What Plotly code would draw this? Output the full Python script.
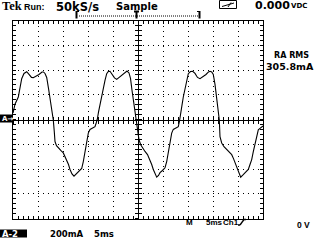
import plotly.graph_objects as go

# Waveform: time from left edge of graticule (ms), current (mA)
time_ms = [0, 0.4, 1.06, 1.4, 1.74, 2.2, 2.74, 3.2, 3.7, 4.06, 4.6, 5.2, 5.8, 6.1, 6.4, 6.74,
           7.1, 7.4, 7.74, 8.06, 8.26, 8.4, 8.7, 9.06, 9.6, 10.06, 10.4, 10.74, 11.1, 11.4, 11.8,
           12.2, 12.6, 13.06, 13.4, 13.74, 14.06, 14.4, 14.74, 15.06, 15.4, 15.74, 16.06, 16.4,
           16.64, 16.86, 17.1, 17.4, 17.74, 18.06, 18.4, 18.74, 19.06, 19.4, 19.8, 20.3, 20.74,
           21.2, 21.8, 22.3, 22.8, 23.2, 23.5, 23.8, 24.1, 24.4, 24.7, 24.9, 25.2, 25.54, 26.0,
           26.4, 26.9, 27.4, 27.74, 28.06, 28.4, 28.74, 29.1, 29.4, 29.9, 30.4, 30.74, 31.06,
           31.4, 31.74, 32.06, 32.4, 32.74, 33.06, 33.3, 33.54, 33.8, 34.06, 34.4, 34.74, 35.06,
           35.5, 35.94, 36.4, 36.9, 37.4, 38.0, 38.6, 39.1, 39.4, 39.74, 40.06, 40.4, 40.74, 41.0,
           41.26, 41.4, 41.74, 42.2, 42.74, 43.2, 43.74, 44.1, 44.4, 44.74, 45.06, 45.54, 46.0,
           46.4, 46.74, 47.06, 47.4, 47.74, 48.06, 48.4, 48.74, 49.06, 49.4, 49.74, 50.0]
current_ma = [52, 124, 182, 276, 330, 372, 386, 364, 340, 338, 348, 364, 384, 384, 372, 340,
              252, 182, 92, -4, -100, -178, -212, -230, -252, -270, -300, -324, -364, -404, -440,
              -458, -440, -418, -408, -396, -340, -270, -188, -110, -80, -70, -66, -58,
              -28, 2, 60, 124, 180, 236, 316, 370, 388, 390, 368, 336, 324,
              340, 356, 380, 392, 376, 332, 236, 140, 52, -4, -100, -164, -204, -236,
              -258, -284, -324, -364, -404, -444, -466, -452, -430, -412, -390, -340, -270,
              -180, -110, -80, -70, -64, -58, -12, 36, 116, 182, 252, 316, 370,
              388, 390, 372, 340, 330, 344, 364, 384, 390, 384, 364, 284, 182, 92,
              -4, -138, -190, -220, -244, -264, -284, -316, -350, -384, -418, -466, -448,
              -430, -416, -404, -364, -324, -260, -190, -124, -84, -72, -64, -52]

time_range = [0, 50]        # 10 div x 5 ms
current_range = [-800, 800] # 8 div x 200 mA
div_time = 5
div_current = 200

W, H = 320, 240
X0, X1 = 13, 263
Y0, Y1 = 20.5, 218.5


def px(x):
    return x / W


def py(y):
    return 1 - y / H


FONT = "DejaVu Sans"
NARROW = "Liberation Sans"
dom_x = [px(X0), px(X1)]
dom_y = [py(Y1), py(Y0)]

fig = go.Figure()
fig.add_trace(go.Scatter(x=time_ms, y=current_ma, mode="lines",
                         line=dict(color="black", width=1.1), hoverinfo="skip",
                         showlegend=False))

axis_common = dict(showticklabels=False, zeroline=False, showline=True, linecolor="black",
                   linewidth=1, mirror="allticks", ticks="inside", ticklen=3,
                   tickcolor="black", tickwidth=1, showgrid=True, gridcolor="black",
                   gridwidth=1, griddash="1px,4px", fixedrange=True)

fig.update_layout(
    width=W, height=H, margin=dict(l=0, r=0, t=0, b=0),
    paper_bgcolor="white", plot_bgcolor="white", showlegend=False,
    xaxis=dict(range=time_range, domain=dom_x, dtick=div_time, anchor="y",
               minor=dict(dtick=1, ticks="inside", ticklen=3, tickcolor="black", showgrid=False),
               **axis_common),
    yaxis=dict(range=current_range, domain=dom_y, dtick=div_current, anchor="x",
               minor=dict(dtick=40, ticks="inside", ticklen=3, tickcolor="black", showgrid=False),
               **axis_common),
)

# centre crosshair axes with ticks on both sides
cx = px((X0 + X1) / 2)
cy = py((Y0 + Y1) / 2)
for i, tk in enumerate(["inside", "outside"]):
    xn, yn = f"xaxis{2 + i}", f"yaxis{2 + i}"
    fig.update_layout(**{
        xn: dict(range=time_range, domain=dom_x, overlaying="x", anchor="free", position=cy,
                 showline=True, linecolor="black", linewidth=1, ticks=tk, ticklen=3,
                 tickcolor="black", dtick=1, showticklabels=False, showgrid=False,
                 zeroline=False, fixedrange=True),
        yn: dict(range=current_range, domain=dom_y, overlaying="y", anchor="free", position=cx,
                 showline=True, linecolor="black", linewidth=1, ticks=tk, ticklen=3,
                 tickcolor="black", dtick=40, showticklabels=False, showgrid=False,
                 zeroline=False, fixedrange=True),
    })
    fig.add_trace(go.Scatter(x=[None], y=[None], xaxis=f"x{2 + i}", yaxis=f"y{2 + i}",
                             showlegend=False, hoverinfo="skip"))

shapes = []


def line(x0, y0, x1, y1, w=1, dash=None):
    shapes.append(dict(type="line", xref="paper", yref="paper", x0=px(x0), y0=py(y0),
                       x1=px(x1), y1=py(y1), line=dict(color="black", width=w, dash=dash)))


def rect(x0, y0, x1, y1, fill="black", w=0):
    shapes.append(dict(type="rect", xref="paper", yref="paper", x0=px(x0), y0=py(y0),
                       x1=px(x1), y1=py(y1), fillcolor=fill,
                       line=dict(color="black", width=w)))


# record bracket
line(76.5, 11, 76.5, 18.5, w=2)
line(76.5, 11.5, 79, 11.5)
line(79, 16, 199, 16, dash="1px,1px")
line(199.5, 11, 199.5, 18.5, w=2)
line(197, 11.5, 199.5, 11.5)
line(134, 11.5, 139, 11.5, w=2)
line(136.5, 11, 136.5, 18.5, w=2)
# meter icon
rect(219.5, 0.5, 236.5, 8.5, fill="white", w=1)
line(222, 6.5, 234, 3)
line(228, 7, 231, 2.5)
# rising-edge trigger symbol
line(238, 225, 240, 225, w=1.3)
line(240, 225, 244, 219.5, w=1.3)
line(244, 219.5, 246, 219.5, w=1.3)
# reversed labels
rect(0, 114.5, 12.5, 122.5)
rect(0, 229.5, 27, 237.5)
fig.update_layout(shapes=shapes)

ann = []


def text(x, y, s, size=10, family=FONT, color="black", bold=True):
    ann.append(dict(x=px(x), y=py(y), xref="paper", yref="paper", text=(f"<b>{s}</b>" if bold else s),
                    showarrow=False, xanchor="left", yanchor="middle", borderpad=0,
                    font=dict(family=family, size=size, color=color)))


text(1, 5.5, "Tek", size=12.5, family="Liberation Serif")
text(22.5, 6.5, "Run:", size=9, family=NARROW)
text(54.5, 6.5, "50kS/s", size=11.5)
text(114.5, 6.5, "Sample", size=10)
text(253.5, 5.5, "0.000", size=11)
text(290, 6, "VDC", size=7)
text(272.5, 55.5, "RA RMS", size=8)
text(264.5, 66.5, "305.8mA", size=9.5)
text(0.5, 118.5, "A→", size=7, color="white")
text(184.5, 222, "M", size=8, family=NARROW)
text(204.5, 222, "5ms", size=8, family=NARROW)
text(222, 222, "Ch1", size=8, family=NARROW)
text(296, 224.5, "0 V", size=8.5, family=NARROW)
text(1, 233.5, "A-2", size=8.5, color="white")
text(48.5, 233.5, "200mA", size=8.5)
text(93, 233.5, "5ms", size=8.5)
fig.update_layout(annotations=ann)

fig.write_html("out.html", post_script="document.body.style.margin='0px';",
               config={"displayModeBar": False})
